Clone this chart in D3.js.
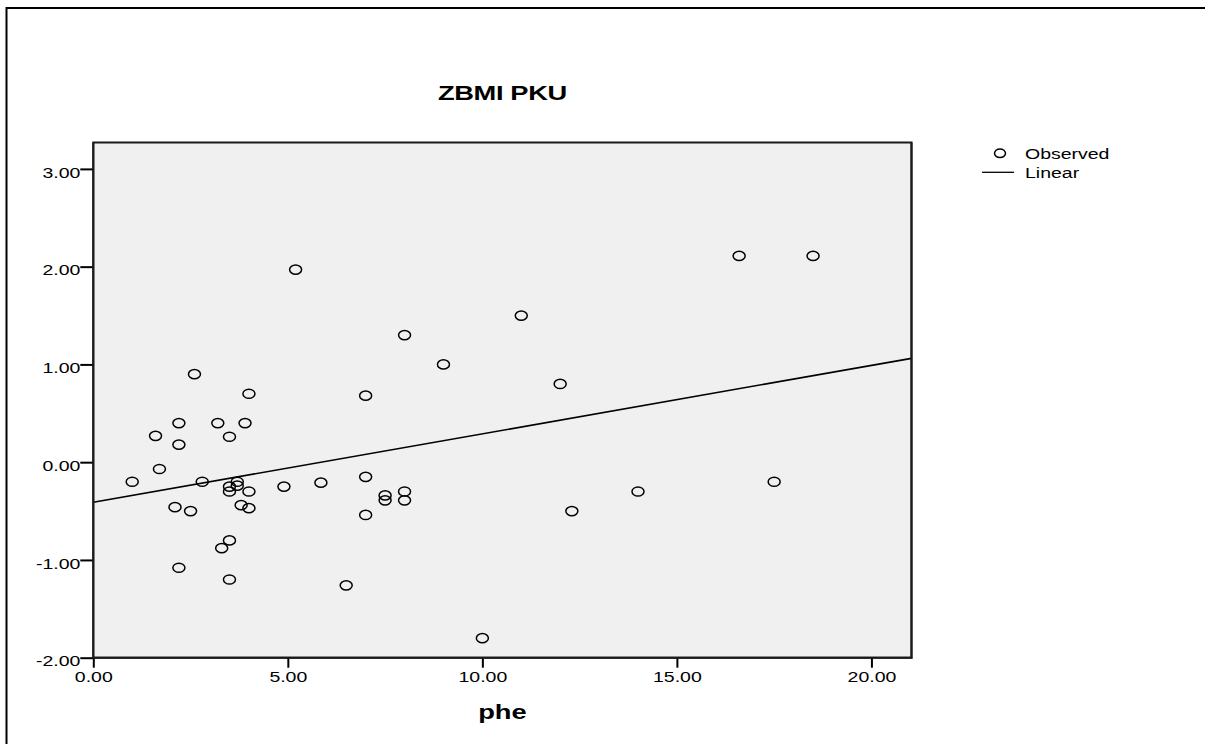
<!DOCTYPE html>
<html>
<head>
<meta charset="utf-8">
<script src="https://cdn.jsdelivr.net/npm/d3@7"></script>
<style>
  html, body { margin: 0; padding: 0; background: #fff; }
  svg { display: block; }
  text { font-family: "Liberation Sans", Arial, sans-serif; fill: #000; }
</style>
</head>
<body>
<svg id="chart" width="1205" height="744"></svg>
<script>
// ---- data ----
const title = "ZBMI PKU";
const xLabel = "phe";
const pheValues = [1.0, 1.6, 1.7, 2.2, 2.2, 2.1, 2.5, 2.2, 2.6, 2.8, 3.2, 3.5, 3.3, 3.5, 3.5, 3.5, 3.5, 3.7, 3.7, 3.8, 3.9, 4.0, 4.0, 4.0,
                   4.9, 5.2, 5.85, 6.5, 7.0, 7.0, 7.0, 7.5, 7.5, 8.0, 8.0, 8.0, 9.0, 10.0, 11.0, 12.0, 12.3, 14.0, 16.6, 17.5, 18.5];
const zbmiValues = [-0.20, 0.27, -0.07, 0.40, 0.18, -0.46, -0.50, -1.08, 0.90, -0.20, 0.40, 0.26, -0.88, -0.80, -1.20, -0.25, -0.30, -0.20, -0.24, -0.44, 0.40, 0.70, -0.30, -0.47,
                    -0.25, 1.97, -0.21, -1.26, 0.68, -0.15, -0.54, -0.34, -0.39, 1.30, -0.30, -0.39, 1.00, -1.80, 1.50, 0.80, -0.50, -0.30, 2.11, -0.20, 2.11];
const linearFit = { intercept: -0.41, slope: 0.07 };
const xTicks = [0, 5, 10, 15, 20];
const yTicks = [-2, -1, 0, 1, 2, 3];
const xDomain = [0, 21.03];
const yDomain = [-2, 3.27];
const legendItems = ["Observed", "Linear"];

// ---- layout ----
const svg = d3.select("#chart");
const plot = { left: 93.3, right: 911.5, top: 142.5, bottom: 657.7 };
const SX = 1.3; // horizontal stretch of the reference's text

const x = d3.scaleLinear().domain(xDomain).range([plot.left, plot.right]);
const y = d3.scaleLinear().domain(yDomain).range([plot.bottom, plot.top]);

// outer frame
svg.append("path")
  .attr("d", "M6.5,744 L6.5,8 L1205,8")
  .attr("fill", "none").attr("stroke", "#000").attr("stroke-width", 2);

// plot background
svg.append("rect")
  .attr("x", plot.left).attr("y", plot.top)
  .attr("width", plot.right - plot.left).attr("height", plot.bottom - plot.top)
  .attr("fill", "#f0f0f0").attr("stroke", "#1a1a1a").attr("stroke-width", 2);

function stretchedText(px, py, str, size, weight, anchor) {
  return svg.append("g").attr("transform", `translate(${px},${py}) scale(${SX},1)`)
    .append("text")
    .attr("text-anchor", anchor || "start")
    .attr("font-size", size)
    .attr("font-weight", weight || "normal")
    .text(str);
}

// title
stretchedText((plot.left + plot.right) / 2, 100, title, 21, "bold", "middle").attr("letter-spacing", -0.3);

// axes
const f2 = d3.format(".2f");
const fmt = d => f2(d).replace("\u2212", "-");
const xAxis = svg.append("g")
  .attr("transform", `translate(0,${plot.bottom})`)
  .call(d3.axisBottom(x).tickValues(xTicks).tickFormat(fmt).tickSize(10).tickSizeOuter(0));
xAxis.select(".domain").remove();
xAxis.selectAll(".tick line").attr("stroke", "#000").attr("stroke-width", 2);
xAxis.selectAll(".tick text")
  .attr("font-size", 15).attr("font-family", "Liberation Sans, Arial, sans-serif")
  .attr("y", 14).attr("dy", "0.71em").attr("fill", "#000")
  .attr("transform", `scale(${SX},1)`);

const yAxis = svg.append("g")
  .attr("transform", `translate(${plot.left},0)`)
  .call(d3.axisLeft(y).tickValues(yTicks).tickFormat(fmt).tickSize(13).tickSizeOuter(0));
yAxis.select(".domain").remove();
yAxis.selectAll(".tick line").attr("stroke", "#000").attr("stroke-width", 2);
yAxis.selectAll(".tick text")
  .attr("font-size", 15).attr("font-family", "Liberation Sans, Arial, sans-serif")
  .attr("x", -13 / SX).attr("dy", "0.55em").attr("fill", "#000")
  .attr("transform", `scale(${SX},1)`);

// axis label
stretchedText((plot.left + plot.right) / 2, 719, xLabel, 21, "bold", "middle");

// clip
svg.append("clipPath").attr("id", "clip")
  .append("rect").attr("x", plot.left).attr("y", plot.top)
  .attr("width", plot.right - plot.left).attr("height", plot.bottom - plot.top);

// linear fit line
const fitLine = d3.line().x(d => x(d)).y(d => y(linearFit.intercept + linearFit.slope * d));
svg.append("path")
  .datum(xDomain)
  .attr("clip-path", "url(#clip)")
  .attr("d", fitLine)
  .attr("fill", "none").attr("stroke", "#000").attr("stroke-width", 1.6);

// observed points
const pts = pheValues.map((v, i) => ({ x: v, y: zbmiValues[i] }));
svg.append("g").selectAll("ellipse")
  .data(pts).enter().append("ellipse")
  .attr("cx", d => x(d.x)).attr("cy", d => y(d.y))
  .attr("rx", 6).attr("ry", 4.6)
  .attr("fill", "none").attr("stroke", "#000").attr("stroke-width", 1.5);

// redraw axis lines on top
svg.append("path")
  .attr("d", `M${plot.left},${plot.top} L${plot.left},${plot.bottom} L${plot.right},${plot.bottom} L${plot.right},${plot.top}`)
  .attr("fill", "none").attr("stroke", "#1a1a1a").attr("stroke-width", 2);

// legend
svg.append("ellipse").attr("cx", 1000).attr("cy", 153.3).attr("rx", 5.5).attr("ry", 4.3)
  .attr("fill", "none").attr("stroke", "#000").attr("stroke-width", 1.5);
stretchedText(1025, 159, legendItems[0], 15);
svg.append("line").attr("x1", 982).attr("x2", 1014).attr("y1", 172.3).attr("y2", 172.3)
  .attr("stroke", "#000").attr("stroke-width", 1.3);
stretchedText(1025, 177.5, legendItems[1], 15);
</script>
</body>
</html>
